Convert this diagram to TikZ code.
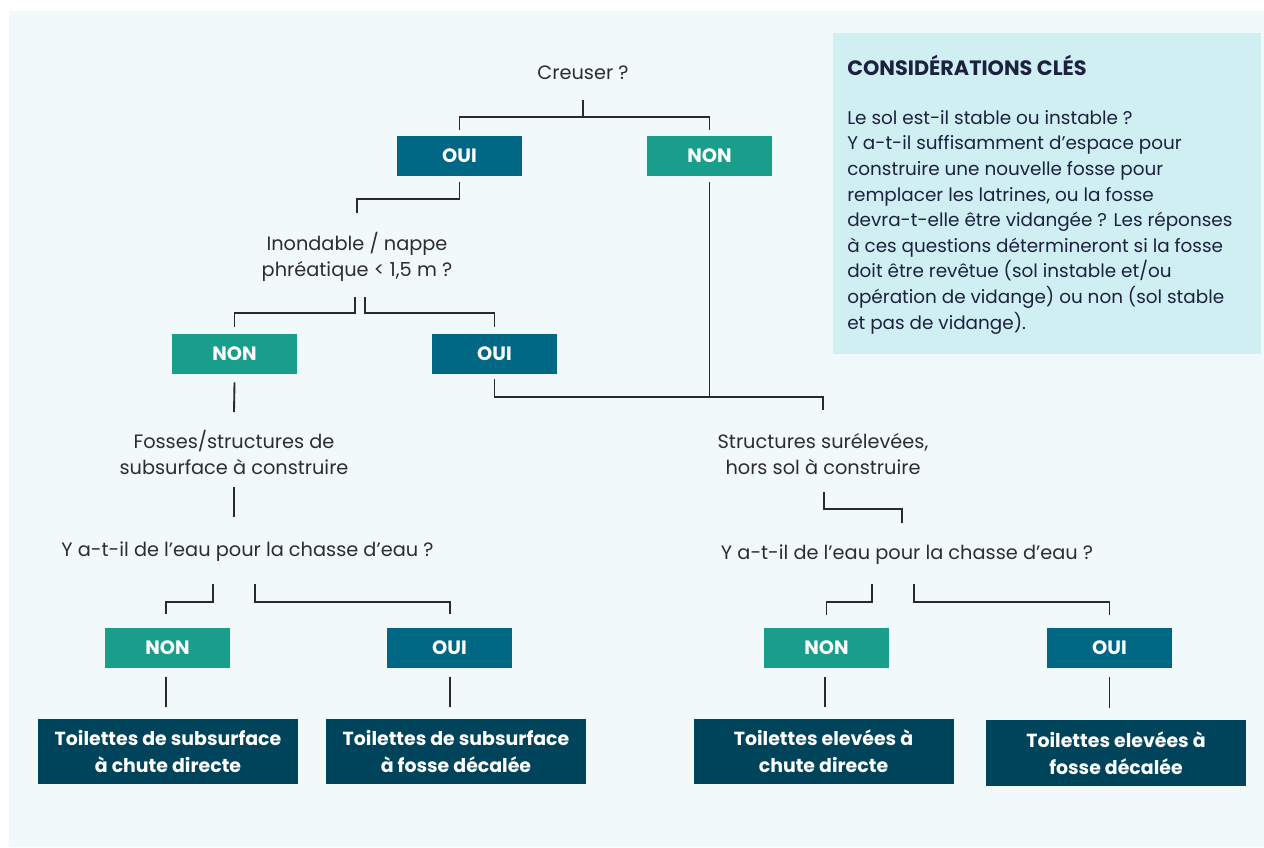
\documentclass[tikz,border=0pt]{standalone}
\usepackage{fontspec}
\setmainfont{Poppins}
\usetikzlibrary{calc}
\definecolor{bgcol}{HTML}{F2F9FB}
\definecolor{keycol}{HTML}{CFEFF2}
\definecolor{ouicol}{HTML}{006884}
\definecolor{noncol}{HTML}{1A9E8C}
\definecolor{fincol}{HTML}{00445C}
\definecolor{txtcol}{HTML}{2D2D2D}
\definecolor{keytxt}{HTML}{1C2140}
\definecolor{linecol}{HTML}{2A2A2A}
\tikzset{
  box/.style={minimum width=93.75pt, minimum height=30pt, inner sep=0pt, text=white,
    font=\bfseries\fontsize{14.5}{16}\selectfont},
  oui/.style={box, fill=ouicol},
  non/.style={box, fill=noncol},
  final/.style={fill=fincol, text=white, minimum width=195pt, minimum height=49pt, inner sep=0pt,
    align=center, font=\bfseries\fontsize{14.2}{20.3}\selectfont},
  question/.style={text=txtcol, align=center, inner sep=0pt, font=\fontsize{14.5}{19.5}\selectfont},
  conn/.style={draw=linecol, line width=1.4pt}
}
\begin{document}
\begin{tikzpicture}[x=0.75pt,y=-0.75pt]
\useasboundingbox (0,0) rectangle (1264,847);
\fill[white] (0,0) rectangle (1264,847);
\fill[bgcol] (9,11) rectangle (1264,847);
% key box
\fill[keycol] (833,33) rectangle (1261,354);
\node[anchor=north west, inner sep=0pt, text=keytxt, font=\bfseries\fontsize{15.6}{19.5}\selectfont] (keytitle) at (847,55) {CONSIDÉRATIONS CLÉS};
\node[anchor=north west, inner sep=0pt, text=keytxt, align=left, font=\fontsize{13.8}{19.2}\selectfont] (keybody) at (847,110)
 {Le sol est-il stable ou instable ?\\
  Y a-t-il suffisamment d’espace pour\\
  construire une nouvelle fosse pour\\
  remplacer les latrines, ou la fosse\\
  devra-t-elle être vidangée ? Les réponses\\
  à ces questions détermineront si la fosse\\
  doit être revêtue (sol instable et/ou\\
  opération de vidange) ou non (sol stable\\
  et pas de vidange).};
% nodes
\node[question] (creuser) at (583,73) {Creuser ?};
\node[oui] (oui1) at (459.5,156) {OUI};
\node[non] (non1) at (709.5,156) {NON};
\node[question] (inond) at (357,257) {Inondable / nappe\\phréatique < 1,5 m ?};
\node[non] (non2) at (234.5,354) {NON};
\node[oui] (oui2) at (494.5,354) {OUI};
\node[question] (fosses) at (234,452) {Fosses/structures de\\subsurface à construire};
\node[question] (struct) at (823,454) {Structures surélevées,\\hors sol à construire};
\node[question] (q1) at (247.5,552) {Y a-t-il de l’eau pour la chasse d’eau ?};
\node[question] (q2) at (907,555) {Y a-t-il de l’eau pour la chasse d’eau ?};
\node[non] (non3) at (167.5,648) {NON};
\node[oui] (oui3) at (449.5,648) {OUI};
\node[non] (non4) at (826.5,648) {NON};
\node[oui] (oui4) at (1109.5,648) {OUI};
\node[final] (fin1) at (168,751.5) {Toilettes de subsurface\\à chute directe};
\node[final] (fin2) at (456,751.5) {Toilettes de subsurface\\à fosse décalée};
\node[final] (fin3) at (823.5,751.5) {Toilettes elevées à\\chute directe};
\node[final] (fin4) at (1116,753) {Toilettes elevées à\\fosse décalée};
% connectors
\draw[conn] ($(creuser)+(0,27)$) -- ($(creuser)+(0,44)$);
\draw[conn] ($(oui1.north)+(0,-6)$) |- ($(creuser)+(0,44)$) -| ($(non1.north)+(0,-6)$);
\draw[conn] ($(oui1.south)+(0,6)$) |- ($(inond)+(0,-58)$) -- ($(inond)+(0,-44)$);
\draw[conn] ($(inond)+(-2,40)$) -- ($(inond)+(-2,56)$) -| ($(non2.north)+(0,-7)$);
\draw[conn] ($(inond)+(8,40)$) -- ($(inond)+(8,56)$) -| ($(oui2.north)+(0,-7)$);
\draw[conn] ($(non1.south)+(0,6)$) -- ($(struct)+(-113.5,-57)$);
\draw[conn] ($(oui2.south)+(0,5)$) |- ($(struct)+(0,-57)$) -- ($(struct)+(0,-44)$);
\draw[conn] ($(struct)+(1,38)$) |- ($(q2)+(-5,-46)$) -- ($(q2)+(-5,-32)$);
\draw[conn] ($(q2)+(-35,29)$) -- ($(q2)+(-35,47)$) -| ($(non4.north)+(0,-13)$);
\draw[conn] ($(q2)+(7,29)$) -- ($(q2)+(7,47)$) -| ($(oui4.north)+(0,-13)$);
\draw[conn] ($(non2.south)+(0,8)$) -- ($(fosses)+(0,-40)$);
\draw[conn] ($(fosses)+(0,35)$) -- ($(q1)+(-13.5,-35)$);
\draw[conn] ($(q1)+(-34.5,32)$) -- ($(q1)+(-34.5,50)$) -| ($(non3.north)+(-1.5,-14)$);
\draw[conn] ($(q1)+(7.5,32)$) -- ($(q1)+(7.5,50)$) -| ($(oui3.north)+(0.5,-14)$);
\draw[conn] ($(non3.south)+(-1.5,9)$) -- ($(non3.south |- fin1.north)+(-1.5,-12)$);
\draw[conn] ($(oui3.south)+(0.5,9)$) -- ($(oui3.south |- fin2.north)+(0.5,-12)$);
\draw[conn] ($(non4.south)+(-1.5,9)$) -- ($(non4.south |- fin3.north)+(-1.5,-12)$);
\draw[conn] ($(oui4.south)+(0,9)$) -- ($(oui4.south |- fin4.north)+(0,-12)$);
\end{tikzpicture}
\end{document}
